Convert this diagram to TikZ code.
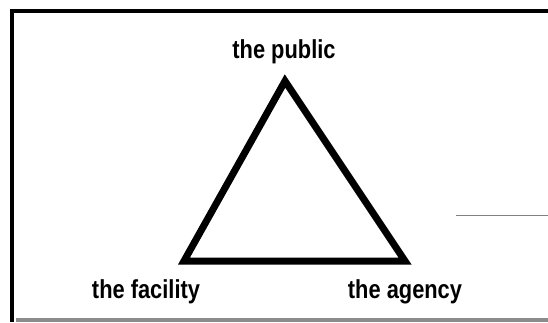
\documentclass[tikz,border=0pt]{standalone}
\usepackage{fontspec}
\setmainfont{Liberation Sans}[FakeStretch=0.84]
\begin{document}
\begin{tikzpicture}[x=1pt,y=-1pt,
  lbl/.style={font=\fontsize{26}{29}\selectfont\bfseries, inner sep=0pt, anchor=base},
  frame/.style={line width=4pt},
  tri/.style={line width=7pt, line join=miter}]
\useasboundingbox (0,0) rectangle (548,322);
\fill[white] (0,0) rectangle (548,322);
% frame
\draw[frame] (10,11) -- (548,11);
\draw[frame] (12,9) -- (12,322);
\draw[frame, gray!90] (16,319.5) -- (548,319.5);
\draw[gray, line width=1pt] (456,215) -- (548,215);
% triangle
\coordinate (top) at (285,81);
\coordinate (bl) at (184,261);
\coordinate (br) at (405,261);
\draw[tri] (top) -- (br) -- (bl) -- cycle;
% labels
\node[lbl] (pub) at (284,58) {the public};
\node[lbl] (fac) at (146,298) {the facility};
\node[lbl] (age) at (405,298) {the agency};
\end{tikzpicture}
\end{document}
